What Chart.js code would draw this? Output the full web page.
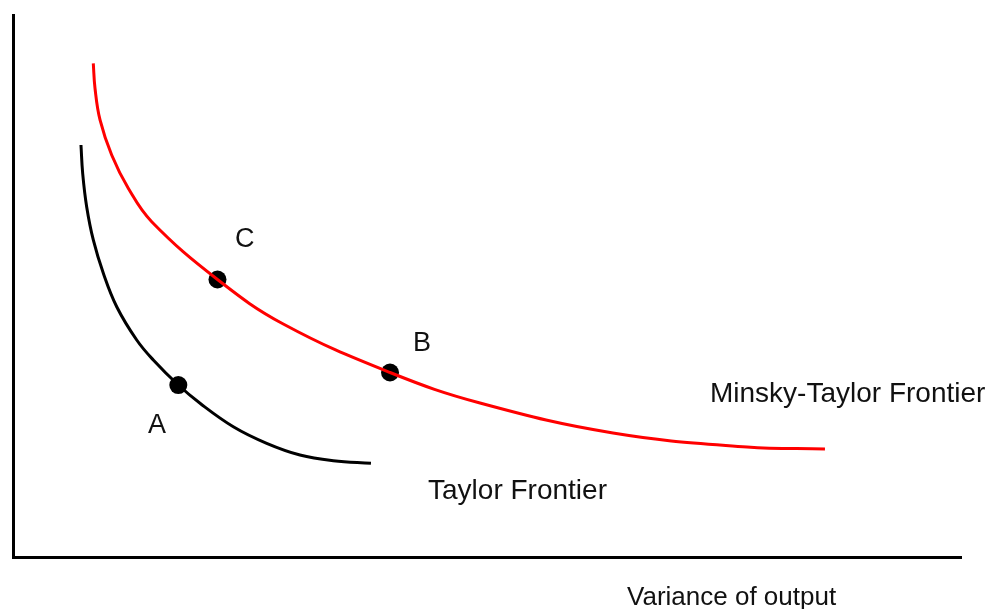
<!DOCTYPE html>
<html>
<head>
<meta charset="utf-8">
<script src="https://cdn.jsdelivr.net/npm/chart.js@4"></script>
<style>
  html, body { margin: 0; padding: 0; background: #fff; }
  canvas { display: block; }
</style>
</head>
<body>
<canvas id="frontier" width="994" height="609"></canvas>
<script>
// curves (x: variance of output, y: variance of inflation, 0-100 units)
const taylorX = [7.17, 7.35, 7.77, 8.47, 9.53, 10.94, 13.05, 14.80, 17.44, 19.73, 23.24, 26.76, 30.27, 33.79, 37.76];
const taylorY = [76.01, 70.79, 64.63, 58.49, 52.34, 46.18, 40.04, 36.35, 31.73, 28.36, 24.04, 20.98, 18.82, 17.77, 17.29];

const minskyX = [8.47, 8.65, 9.18, 10.41, 12.16, 14.63, 21.57, 28.51, 39.77, 49.26, 63.29, 77.43, 85.65];
const minskyY = [91.09, 86.48, 80.63, 74.17, 68.03, 61.86, 51.20, 42.99, 34.04, 28.41, 22.88, 20.30, 19.93];

// marked points A, B, C
const pointNames = ['A', 'B', 'C'];
const pointX = [17.44, 39.77, 21.57];
const pointY = [31.73, 34.04, 51.20];

// text labels anchored in data units (left edge, baseline)
const labelText = ['C', 'B', 'A', 'Taylor Frontier', 'Minsky-Taylor Frontier', 'Variance of output'];
const labelX = [23.42, 42.19, 14.24, 43.78, 73.52, 64.77];
const labelY = [57.2, 38.0, 22.9, 10.7, 28.6, -8.9];
const labelSize = [27, 27, 27, 28, 28, 26];

const zip = (xs, ys) => xs.map((x, i) => ({ x, y: ys[i] }));

const textLabels = {
  id: 'textLabels',
  afterDatasetsDraw(chart) {
    const { ctx, scales } = chart;
    ctx.save();
    ctx.fillStyle = '#111';
    ctx.textAlign = 'left';
    ctx.textBaseline = 'alphabetic';
    labelText.forEach((t, i) => {
      ctx.font = labelSize[i] + 'px "Liberation Sans", Arial, sans-serif';
      ctx.fillText(t, scales.x.getPixelForValue(labelX[i]), scales.y.getPixelForValue(labelY[i]));
    });
    ctx.restore();
  }
};

new Chart(document.getElementById('frontier').getContext('2d'), {
  type: 'scatter',
  data: {
    datasets: [
      {
        label: 'Taylor Frontier',
        data: zip(taylorX, taylorY),
        showLine: true,
        borderColor: '#000',
        borderWidth: 3,
        pointRadius: 0,
        tension: 0.4,
        clip: false,
      },
      {
        label: 'Minsky-Taylor Frontier',
        data: zip(minskyX, minskyY),
        showLine: true,
        borderColor: '#ff0000',
        borderWidth: 3,
        pointRadius: 0,
        tension: 0.4,
        clip: false,
      },
      {
        label: 'Points',
        data: zip(pointX, pointY),
        showLine: false,
        pointRadius: 9,
        backgroundColor: '#000',
        borderColor: '#000',
        borderWidth: 0,
        clip: false,
      },
    ],
  },
  options: {
    responsive: false,
    animation: false,
    layout: { padding: { left: 13, top: 15, right: 33, bottom: 52 } },
    plugins: {
      legend: { display: false },
      tooltip: { enabled: false },
    },
    scales: {
      x: {
        type: 'linear',
        min: 0,
        max: 100,
        ticks: { display: false },
        grid: { display: false },
        border: { display: true, color: '#000', width: 3 },
        afterFit: (s) => { s.height = 0; },
      },
      y: {
        type: 'linear',
        min: 0,
        max: 100,
        ticks: { display: false },
        grid: { display: false },
        border: { display: true, color: '#000', width: 3 },
        afterFit: (s) => { s.width = 0; },
      },
    },
  },
  plugins: [textLabels],
});
</script>
</body>
</html>
